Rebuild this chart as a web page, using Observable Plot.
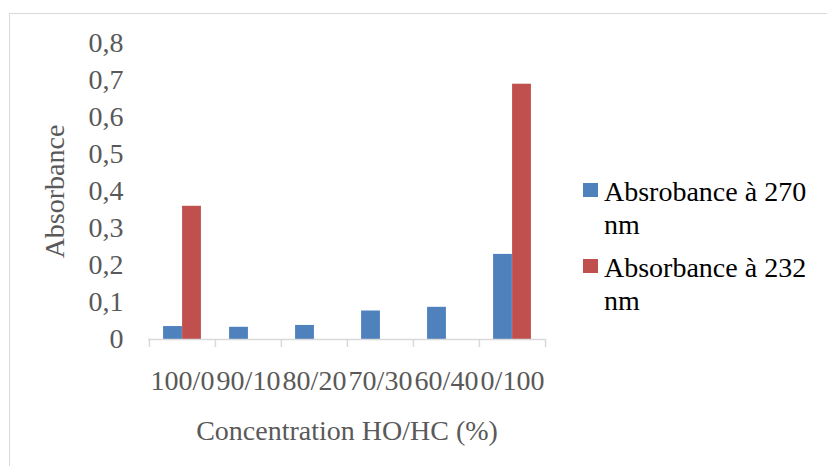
<!DOCTYPE html>
<html>
<head>
<meta charset="utf-8">
<script src="https://cdn.jsdelivr.net/npm/d3@7"></script>
<script src="https://cdn.jsdelivr.net/npm/@observablehq/plot@0.6"></script>
<style>
  html, body { margin: 0; padding: 0; background: #fff; overflow: hidden; }
  #chart { position: relative; width: 827px; height: 466px; }
  #frame { position: absolute; left: 9px; top: 13px; width: 900px; height: 500px; border: 1.5px solid #d9d9d9; pointer-events: none; }
  #plot { position: absolute; left: 0; top: 0; }
  #legend { position: absolute; left: 583px; top: 175px; color: #000; font-family: "Liberation Serif", "Times New Roman", serif !important; font-size: 28px; line-height: 33px; }
  #legend .item { display: flex; align-items: flex-start; margin-bottom: 10px; }
  #legend .swatch { width: 15px; height: 14px; margin-top: 8px; margin-right: 6px; flex: none; }
  #legend .name { width: 215px; font-family: "Liberation Serif", serif; }
</style>
</head>
<body>
<div id="chart">
  <div id="frame"></div>
  <div id="plot"></div>
  <div id="legend"></div>
</div>
<script>
// HO/HC blend ratios (%)
const categories = ["100/0", "90/10", "80/20", "70/30", "60/40", "0/100"];
// Absorbance readings per blend
const abs270 = [0.035, 0.033, 0.038, 0.077, 0.087, 0.23];
const abs232 = [0.36, null, null, null, null, 0.69];
const seriesNames = ["Absrobance à 270 nm", "Absorbance à 232 nm"];
const seriesColors = ["#4F81BD", "#C0504D"];
const yTicks = [0, 0.1, 0.2, 0.3, 0.4, 0.5, 0.6, 0.7, 0.8];

const width = 827, height = 466;
const marginLeft = 148, marginRight = 282, marginTop = 43, marginBottom = 127;
const step = (width - marginLeft - marginRight) / categories.length;
const barWidth = 19;
const outer = (step - 2 * barWidth) / 2;

const axisGray = "#d9d9d9";
const textGray = "#595959";
const comma = d => String(d).replace(".", ",");

const plot = Plot.plot({
  width, height, marginLeft, marginRight, marginTop, marginBottom,
  style: { fontFamily: "'Liberation Serif', 'Times New Roman', serif", background: "transparent", overflow: "visible" },
  x: { type: "band", domain: categories, padding: 0 },
  y: { domain: [0, 0.8] },
  marks: [
    Plot.barY(categories, {
      x: d => d, y: (d, i) => abs270[i], fill: seriesColors[0],
      insetLeft: outer, insetRight: step - outer - barWidth
    }),
    Plot.barY(categories, {
      x: d => d, y: (d, i) => abs232[i], fill: seriesColors[1],
      insetLeft: outer + barWidth, insetRight: outer
    }),
    Plot.ruleY([0], { stroke: axisGray, strokeWidth: 1.5 }),
    // category boundary ticks below the baseline
    Plot.axisX({ tickSize: 8, stroke: axisGray, strokeWidth: 1.5, fill: "none", dx: -step / 2, label: null }),
    Plot.axisX({ ticks: [categories[categories.length - 1]], tickSize: 8, stroke: axisGray, strokeWidth: 1.5, fill: "none", dx: step / 2, label: null }),
    // category labels and axis title
    Plot.axisX({
      tickSize: 0, tickPadding: 31, fontSize: 28, fill: textGray,
      label: "Concentration HO/HC (%)", labelAnchor: "center", labelOffset: 100, labelArrow: "none"
    }),
    Plot.axisY({
      ticks: yTicks, tickFormat: comma, tickSize: 0, tickPadding: 25, fontSize: 28, fill: textGray,
      label: "Absorbance", labelAnchor: "center", labelOffset: 104, labelArrow: "none"
    })
  ]
});
document.getElementById("plot").append(plot);

// Legend: swatch + wrapped label per series
const legend = d3.select("#legend");
seriesNames.forEach((name, i) => {
  const item = legend.append("div").attr("class", "item");
  item.append("div").attr("class", "swatch").style("background", seriesColors[i]);
  item.append("div").attr("class", "name").text(name);
});
</script>
</body>
</html>
